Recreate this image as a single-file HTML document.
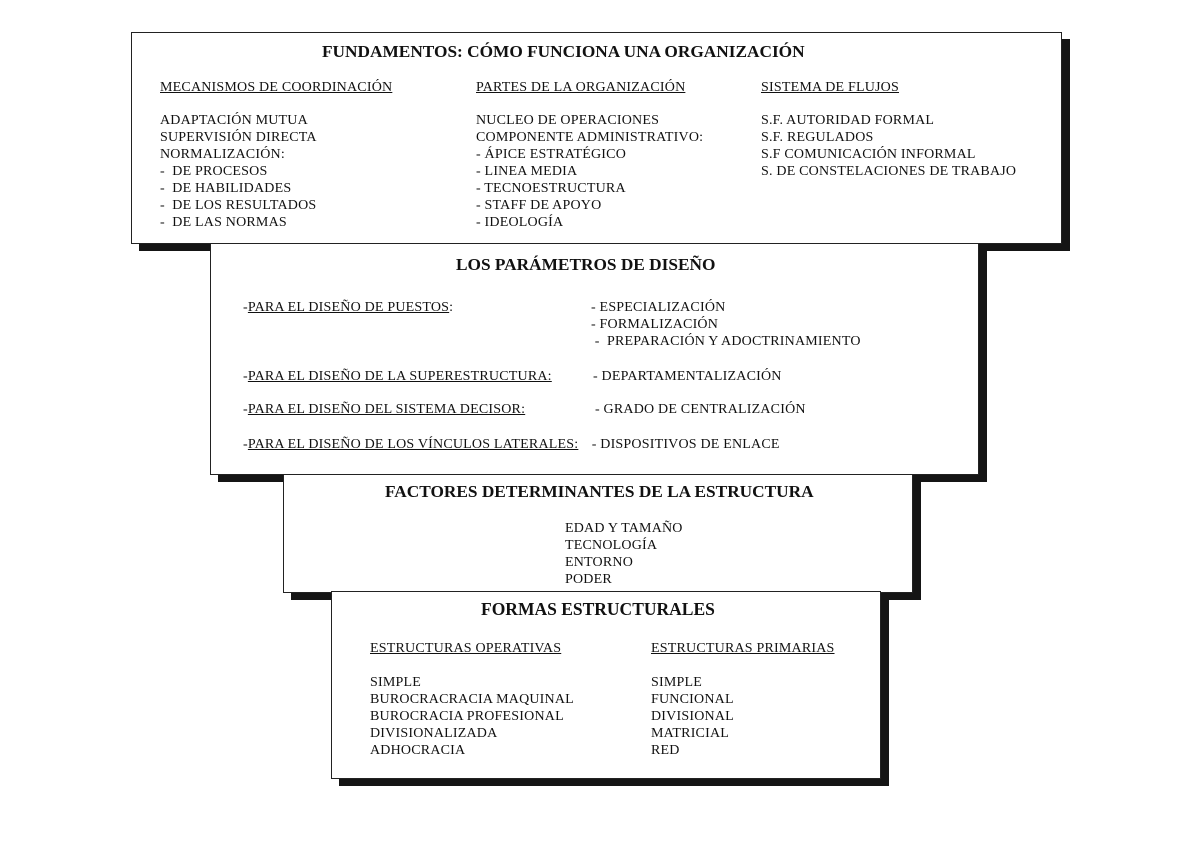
<!DOCTYPE html>
<html><head><meta charset="utf-8"><style>
body{margin:0;width:1200px;height:850px;background:#fff;position:relative;overflow:hidden;font-family:"Liberation Serif",serif;color:#111}
.b{position:absolute;background:#fff;border:1px solid #222;box-shadow:8px 7px 0 #151515}
.t{position:absolute;font-size:14px;line-height:17px;white-space:pre;letter-spacing:0.2px}
.h{position:absolute;font-weight:bold;font-size:17.3px;white-space:pre}
u{text-decoration:underline}
</style></head><body>
<div class="b" style="left:131px;top:32px;width:929px;height:210px;z-index:1"></div>
<div class="b" style="left:210px;top:243px;width:767px;height:230px;z-index:2"></div>
<div class="b" style="left:283px;top:474px;width:628px;height:117px;z-index:3"></div>
<div class="b" style="left:331px;top:591px;width:548px;height:186px;z-index:4"></div>

<div style="position:absolute;left:0;top:0;z-index:10">
<div class="h" style="left:322px;top:42px">FUNDAMENTOS: CÓMO FUNCIONA UNA ORGANIZACIÓN</div>
<div class="t" style="left:160px;top:79px"><u>MECANISMOS DE COORDINACIÓN</u></div>
<div class="t" style="left:476px;top:79px"><u>PARTES DE LA ORGANIZACIÓN</u></div>
<div class="t" style="left:761px;top:79px"><u>SISTEMA DE FLUJOS</u></div>
<div class="t" style="left:160px;top:112px">ADAPTACIÓN MUTUA
SUPERVISIÓN DIRECTA
NORMALIZACIÓN:
-  DE PROCESOS
-  DE HABILIDADES
-  DE LOS RESULTADOS
-  DE LAS NORMAS</div>
<div class="t" style="left:476px;top:112px">NUCLEO DE OPERACIONES
COMPONENTE ADMINISTRATIVO:
- ÁPICE ESTRATÉGICO
- LINEA MEDIA
- TECNOESTRUCTURA
- STAFF DE APOYO
- IDEOLOGÍA</div>
<div class="t" style="left:761px;top:112px">S.F. AUTORIDAD FORMAL
S.F. REGULADOS
S.F COMUNICACIÓN INFORMAL
S. DE CONSTELACIONES DE TRABAJO</div>

<div class="h" style="left:456px;top:255px">LOS PARÁMETROS DE DISEÑO</div>
<div class="t" style="left:243px;top:299px">-<u>PARA EL DISEÑO DE PUESTOS</u>:</div>
<div class="t" style="left:591px;top:299px">- ESPECIALIZACIÓN
- FORMALIZACIÓN
 -  PREPARACIÓN Y ADOCTRINAMIENTO</div>
<div class="t" style="left:243px;top:368px">-<u>PARA EL DISEÑO DE LA SUPERESTRUCTURA:</u></div>
<div class="t" style="left:593px;top:368px">- DEPARTAMENTALIZACIÓN</div>
<div class="t" style="left:243px;top:401px">-<u>PARA EL DISEÑO DEL SISTEMA DECISOR:</u></div>
<div class="t" style="left:595px;top:401px">- GRADO DE CENTRALIZACIÓN</div>
<div class="t" style="left:243px;top:436px">-<u>PARA EL DISEÑO DE LOS VÍNCULOS LATERALES:</u></div>
<div class="t" style="left:588px;top:436px"> - DISPOSITIVOS DE ENLACE</div>

<div class="h" style="left:385px;top:482px">FACTORES DETERMINANTES DE LA ESTRUCTURA</div>
<div class="t" style="left:565px;top:520px">EDAD Y TAMAÑO
TECNOLOGÍA
ENTORNO
PODER</div>

<div class="h" style="left:481px;top:599px;font-size:17.5px">FORMAS ESTRUCTURALES</div>
<div class="t" style="left:370px;top:640px"><u>ESTRUCTURAS OPERATIVAS</u></div>
<div class="t" style="left:651px;top:640px"><u>ESTRUCTURAS PRIMARIAS</u></div>
<div class="t" style="left:370px;top:674px">SIMPLE
BUROCRACRACIA MAQUINAL
BUROCRACIA PROFESIONAL
DIVISIONALIZADA
ADHOCRACIA</div>
<div class="t" style="left:651px;top:674px">SIMPLE
FUNCIONAL
DIVISIONAL
MATRICIAL
RED</div>
</div>
</body></html>
